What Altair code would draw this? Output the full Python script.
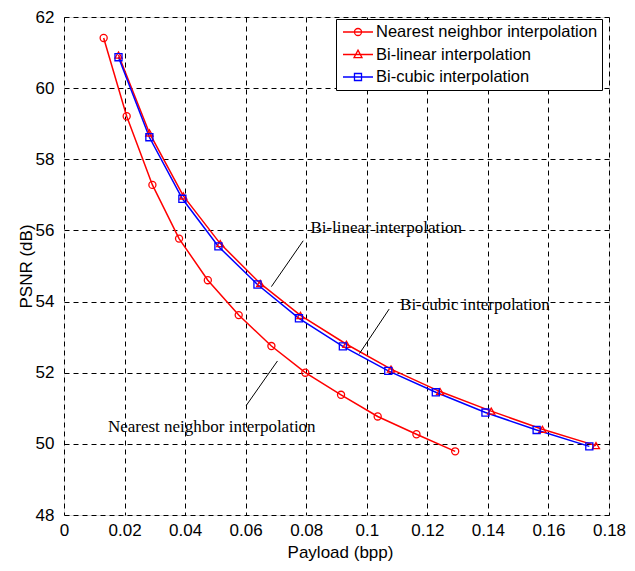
import altair as alt
import pandas as pd

# ---------------- data ----------------
series_names = ["Nearest neighbor interpolation", "Bi-linear interpolation", "Bi-cubic interpolation"]

nn_x = [0.0131, 0.0207, 0.0292, 0.0380, 0.0475, 0.0577, 0.0685, 0.0797, 0.0915, 0.1036, 0.1164, 0.1292]
nn_y = [61.41, 59.21, 57.28, 55.77, 54.60, 53.62, 52.75, 52.00, 51.38, 50.77, 50.27, 49.79]

bl_x = [0.0180, 0.0282, 0.0394, 0.0516, 0.0648, 0.0781, 0.0933, 0.1080, 0.1242, 0.1411, 0.1580, 0.1757]
bl_y = [60.93, 58.74, 56.97, 55.63, 54.51, 53.61, 52.80, 52.10, 51.47, 50.92, 50.41, 49.95]

bc_x = [0.0180, 0.0282, 0.0391, 0.0510, 0.0639, 0.0776, 0.0921, 0.1071, 0.1228, 0.1392, 0.1561, 0.1735]
bc_y = [60.87, 58.62, 56.89, 55.55, 54.48, 53.53, 52.74, 52.05, 51.45, 50.88, 50.39, 49.93]

x_ticks = [0, 0.02, 0.04, 0.06, 0.08, 0.1, 0.12, 0.14, 0.16, 0.18]
y_ticks = [48, 50, 52, 54, 56, 58, 60, 62]

# annotations (data coordinates)
ann_text = ["Bi-linear interpolation", "Bi-cubic interpolation", "Nearest neighbor interpolation"]
ann_tx = [0.1064, 0.1357, 0.0488]
ann_ty = [56.08, 53.90, 50.47]
ann_x1 = [0.0685, 0.0976, 0.0602]
ann_y1 = [54.42, 52.54, 51.08]
ann_x2 = [0.0790, 0.1074, 0.0705]
ann_y2 = [55.71, 53.79, 52.33]

colors = ["#ff0000", "#ff0000", "#0000ff"]
shapes = ["circle", "triangle-up", "square"]
legend_shapes = [
    "M-1.875,0H1.875M-0.44,0A0.44,0.44,0,1,1,0.44,0A0.44,0.44,0,1,1,-0.44,0",
    "M-1.875,0H1.875M0,-0.55L0.5,0.4L-0.5,0.4Z",
    "M-1.875,0H1.875M-0.44,-0.44H0.44V0.44H-0.44Z",
]

rows = []
for name, xs, ys in zip(series_names, [nn_x, bl_x, bc_x], [nn_y, bl_y, bc_y]):
    for i, (a, b) in enumerate(zip(xs, ys)):
        rows.append({"series": name, "x": a, "y": b, "idx": i})
df = pd.DataFrame(rows)

ann_df = pd.DataFrame({"text": ann_text, "tx": ann_tx, "ty": ann_ty,
                       "x1": ann_x1, "y1": ann_y1, "x2": ann_x2, "y2": ann_y2})

# ---------------- chart ----------------
xscale = alt.Scale(domain=[0, 0.18], nice=False, zero=False)
yscale = alt.Scale(domain=[48, 62], nice=False, zero=False)

xaxis = alt.Axis(values=x_ticks, format="~g", grid=True, gridDash=[5, 4], gridColor="black",
                 gridOpacity=1, gridWidth=1, ticks=False, domain=False, labelPadding=7,
                 labelFontSize=17, labelFont="Liberation Sans", labelColor="black",
                 title="Payload (bpp)", titleFont="Liberation Sans", titleFontSize=17,
                 titleFontWeight="normal", titleColor="black", titleX=276, titleY=37,
                 titleBaseline="middle", titleAlign="center", labelFlush=False, labelOverlap=False)
yaxis = alt.Axis(values=y_ticks, grid=True, gridDash=[5, 4], gridColor="black",
                 gridOpacity=1, gridWidth=1, ticks=False, domain=False, labelPadding=10,
                 labelFontSize=17, labelFont="Liberation Sans", labelColor="black",
                 title="PSNR (dB)", titleFont="Liberation Sans", titleFontSize=17,
                 titleFontWeight="normal", titleColor="black", titleX=-38, titleY=249,
                 titleAngle=270, titleBaseline="middle", titleAlign="center",
                 labelFlush=False, labelOverlap=False)

base = alt.Chart(df)

lines = base.mark_line(strokeWidth=1.5).encode(
    x=alt.X("x:Q", scale=xscale, axis=xaxis),
    y=alt.Y("y:Q", scale=yscale, axis=yaxis),
    color=alt.Color("series:N", scale=alt.Scale(domain=series_names, range=colors), legend=None),
    detail="series:N",
    order="idx:Q",
)

points = base.mark_point(filled=False, size=50, strokeWidth=1.3, opacity=1).encode(
    x=alt.X("x:Q", scale=xscale),
    y=alt.Y("y:Q", scale=yscale),
    color=alt.Color("series:N", scale=alt.Scale(domain=series_names, range=colors), legend=None),
    shape=alt.Shape("series:N", scale=alt.Scale(domain=series_names, range=shapes), legend=None),
)

legend_def = alt.Legend(title=None, orient="none", legendX=272, legendY=2, padding=4,
                        fillColor="white", strokeColor="black",
                        symbolSize=256, symbolOffset=9, symbolStrokeWidth=1.3,
                        labelOffset=9, rowPadding=4.5, labelFontSize=16.5,
                        labelFont="Liberation Sans", labelColor="black", labelLimit=400)

legend_layer = base.transform_filter("datum.y < 0").mark_point(filled=False, opacity=1).encode(
    x=alt.X("x:Q", scale=xscale),
    y=alt.Y("y:Q", scale=yscale),
    color=alt.Color("series:N", scale=alt.Scale(domain=series_names, range=colors), legend=legend_def),
    shape=alt.Shape("series:N", scale=alt.Scale(domain=series_names, range=legend_shapes), legend=legend_def),
)

ann = alt.Chart(ann_df)
rules = ann.mark_rule(color="black", strokeWidth=1).encode(
    x=alt.X("x1:Q", scale=xscale), y=alt.Y("y1:Q", scale=yscale),
    x2="x2:Q", y2="y2:Q",
)
texts = ann.mark_text(font="Liberation Serif", fontSize=17, color="black",
                      align="center", baseline="middle").encode(
    x=alt.X("tx:Q", scale=xscale), y=alt.Y("ty:Q", scale=yscale), text="text:N",
)

chart = alt.layer(lines, points, rules, texts, legend_layer).resolve_scale(
    color="independent", shape="independent"
).properties(
    width=545, height=498, autosize="none",
    padding={"left": 56, "top": 9, "right": 18, "bottom": 48},
).configure_view(stroke="black", strokeWidth=1).configure(background="white")

chart.save("out.html", embed_options={"renderer": "svg", "actions": False})
